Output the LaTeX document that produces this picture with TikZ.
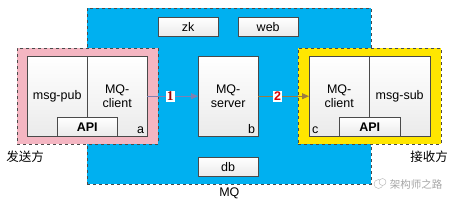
\documentclass[tikz,border=0pt]{standalone}
\usepackage{fontspec}
\setmainfont{Liberation Sans}
\newfontfamily\cjk{Noto Sans CJK SC}
\newfontfamily\numserif{Liberation Serif}
\usetikzlibrary{arrows.meta, positioning}
\definecolor{mqblue}{HTML}{00B0F0}
\definecolor{sendpink}{HTML}{F4B6C2}
\definecolor{recvyellow}{HTML}{FFE600}
\definecolor{edgegray}{HTML}{4A4A4A}
\tikzset{
  zone/.style={draw=edgegray, dashed, line width=0.7pt, anchor=north west, inner sep=0pt},
  part/.style={draw=edgegray, top color=white, bottom color=black!8, anchor=north west, inner sep=0pt, align=center, font=\fontsize{12.5}{14}\selectfont},
  small/.style={part, minimum width=60pt, minimum height=19pt},
  tall/.style={part, minimum width=60pt, minimum height=80pt},
  api/.style={small, font=\bfseries\fontsize{12.5}{14}\selectfont},
  corner/.style={inner sep=3pt, font=\fontsize{12.5}{14}\selectfont},
  arrow/.style={-{Triangle[length=7pt, width=6pt]}, line width=0.8pt},
}
\begin{document}
\begin{tikzpicture}[x=1pt, y=-1pt,
  side/.style={font=\cjk\fontsize{12.5}{14}\selectfont},
  num/.style={fill=white, inner sep=1pt, font=\bfseries\fontsize{12.5}{13}\selectfont}]
\useasboundingbox (0,0) rectangle (459,204);
% MQ zone
\node[zone, fill=mqblue, minimum width=284pt, minimum height=176pt] (mq) at (87,8) {};
\node[below=1pt of mq.south, font=\fontsize{12.5}{14}\selectfont, inner sep=2pt] (mqlbl) {MQ};
% sender / receiver zones
\node[zone, fill=sendpink, minimum width=141pt, minimum height=96pt] (sender) at (17,48) {};
\node[zone, fill=recvyellow, minimum width=143pt, minimum height=96pt] (receiver) at (298,48) {};
\node[side] (sendlbl) at (25,157) {发送方};
\node[side] (recvlbl) at (429,157) {接收方};
% parts inside MQ
\node[small] (zk) at (158,17) {zk};
\node[small] (web) at (238,17) {web};
\node[tall] (server) at (198,56) {MQ-\\server};
\node[small] (db) at (198,157) {db};
\node[corner, anchor=south east] at (server.south east) {b};
% sender side
\node[tall] (pub) at (27,56) {msg-pub};
\node[tall] (pclient) at (87,56) {MQ-\\client};
\node[api] (papi) at (57,117) {API};
\node[corner, anchor=south east] at (pclient.south east) {a};
% receiver side
\node[tall] (sclient) at (309,56) {MQ-\\client};
\node[tall, minimum width=61pt] (sub) at (369,56) {msg-sub};
\node[api, minimum width=61pt] (sapi) at (339,117) {API};
\node[corner, anchor=south west] at (sclient.south west) {c};
% flow
\draw[arrow, draw=black!60!blue!50] (pclient.east) -- node[num, pos=0.45, text=red!60!black, font=\numserif\bfseries\fontsize{13.5}{14}\selectfont]{1} (server.west);
\draw[arrow, draw=black!55!yellow!80!red] (server.east) -- node[num, pos=0.38, text=red!85!black]{2} (sclient.west);
% watermark
\node[text=black!35, font=\cjk\fontsize{10.5}{12}\selectfont] (mark) at (416,184) {架构师之路};
\node[draw=black!30, circle, inner sep=0pt, minimum size=9pt, left=3pt of mark] (icon) {};
\node[draw=black!30, circle, fill=white, inner sep=0pt, minimum size=7pt] (icon2) at ([shift={(4pt,2pt)}]icon.center) {};
\end{tikzpicture}
\end{document}
